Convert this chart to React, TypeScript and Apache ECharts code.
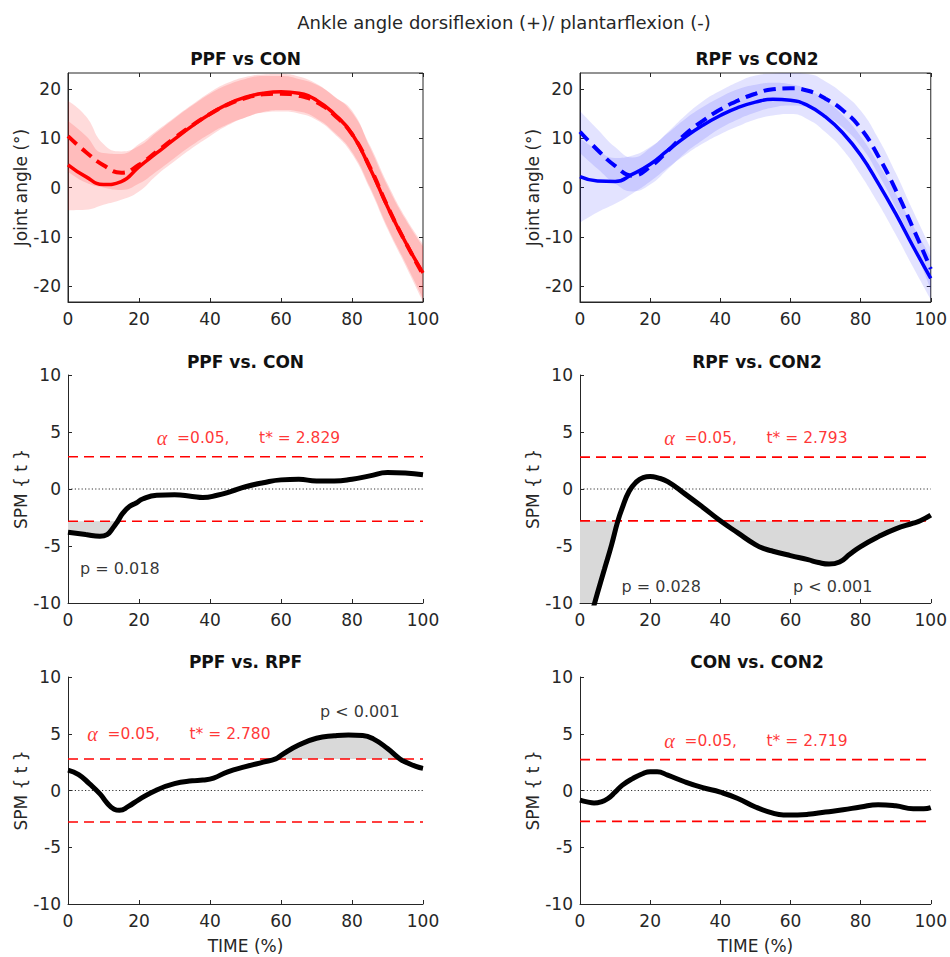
import React, { useEffect, useRef } from "react";
import * as echarts from "echarts";

// ---------------- data ----------------
const TIME_PCT = [0, 5, 10, 15, 20, 25, 30, 35, 40, 45, 50, 55, 60, 65, 70, 75, 80, 85, 90, 95, 100];

// Top-left: PPF (solid) vs CON (dashed), joint angle in degrees
const PPF_MEAN = [4.6, 2.2, 0.6, 1.2, 4.2, 7.0, 9.8, 12.5, 14.9, 16.9, 18.3, 19.1, 19.4, 19.1, 17.7, 14.9, 10.9, 4.0, -3.9, -11.0, -17.3];
const PPF_HI = [13.5, 10.5, 7.0, 6.8, 8.8, 11.5, 14.2, 16.8, 19.3, 21.2, 22.4, 22.9, 23.0, 22.5, 21.0, 18.4, 15.6, 8.2, 0.3, -6.4, -12.0];
const PPF_LO = [-4.6, -4.5, -3.5, -2.5, -0.8, 2.5, 5.3, 8.0, 10.4, 12.6, 14.2, 15.3, 15.7, 15.4, 14.0, 11.2, 7.2, 0.2, -8.0, -15.2, -22.5];
const CON_MEAN = [10.4, 7.2, 4.5, 3.0, 4.6, 7.3, 10.0, 12.6, 14.9, 16.8, 18.1, 18.9, 19.0, 18.6, 17.3, 14.7, 10.8, 4.2, -3.8, -11.0, -17.6];
const CON_HI = [17.6, 14.5, 8.8, 7.3, 8.4, 11.2, 14.0, 16.6, 19.0, 20.8, 22.0, 22.6, 22.6, 22.0, 20.8, 18.5, 15.2, 8.6, 0.8, -6.0, -11.5];
const CON_LO = [3.2, 1.0, 0.0, -0.5, 0.8, 3.3, 6.0, 8.6, 10.9, 12.8, 14.2, 15.2, 15.4, 15.0, 13.7, 10.9, 6.8, -0.2, -8.4, -15.7, -23.2];

// Top-right: RPF (solid) vs CON2 (dashed)
const RPF_MEAN = [2.2, 1.3, 1.2, 2.7, 4.7, 7.5, 10.2, 12.6, 14.6, 16.2, 17.3, 17.9, 17.7, 16.6, 14.3, 11.0, 6.6, 0.9, -5.3, -12.0, -18.4];
const RPF_HI = [10.0, 7.6, 6.0, 6.5, 8.2, 11.0, 13.9, 16.3, 18.3, 19.9, 20.8, 21.2, 20.9, 19.8, 17.6, 14.6, 10.4, 4.9, -1.2, -7.8, -14.0];
const RPF_LO = [-7.1, -5.0, -3.3, -1.2, 1.2, 4.0, 6.6, 8.9, 10.8, 12.4, 13.8, 14.6, 14.9, 13.8, 11.2, 7.6, 2.6, -3.2, -9.5, -16.2, -22.7];
const CON2_MEAN = [11.3, 7.6, 4.4, 2.4, 4.2, 7.4, 10.8, 13.5, 15.8, 17.6, 19.0, 19.9, 20.1, 19.6, 18.0, 15.6, 12.0, 6.4, -0.5, -8.3, -16.5];
const CON2_HI = [15.5, 11.8, 8.2, 6.1, 8.0, 11.2, 14.6, 17.5, 19.6, 21.4, 22.7, 23.1, 23.2, 23.0, 21.5, 19.0, 15.6, 10.0, 3.0, -4.8, -12.3];
const CON2_LO = [7.0, 3.8, 0.8, -0.8, 0.6, 3.7, 7.0, 9.6, 12.0, 13.8, 15.2, 16.2, 16.6, 16.2, 14.6, 12.1, 8.4, 2.8, -4.0, -11.8, -20.7];

// SPM{t} curves: [time %, t]
const SPM_PPF_CON: [number, number][] = [
  [0, -3.8], [5, -4.0], [9, -4.15], [11, -4.0], [12.7, -3.4], [14, -2.829], [15.5, -2.1], [17.4, -1.52],
  [19.2, -1.23], [21, -0.88], [25, -0.55], [30, -0.5], [35, -0.65], [38, -0.75], [42, -0.55], [46, -0.2],
  [50, 0.2], [55, 0.55], [60, 0.8], [65, 0.85], [70, 0.7], [75, 0.7], [80, 0.85], [85, 1.15], [90, 1.45],
  [95, 1.4], [100, 1.25],
];
const SPM_RPF_CON2: [number, number][] = [
  [0, -14], [2.5, -11.8], [5, -9.1], [7, -7.0], [9, -4.9], [10.8, -2.793], [12, -1.7], [14, -0.2], [16, 0.6],
  [18, 1.0], [20, 1.1], [22, 1.0], [25, 0.65], [30, -0.45], [35, -1.6], [40, -2.793], [45, -3.85], [50, -4.88],
  [52.7, -5.26], [55, -5.46], [60, -5.84], [65, -6.2], [68, -6.45], [71, -6.58], [74, -6.4], [77, -5.7],
  [80, -5.05], [85, -4.2], [90, -3.5], [95, -3.0], [97, -2.793], [100, -2.3],
];
const SPM_PPF_RPF: [number, number][] = [
  [0, 1.8], [3, 1.4], [6, 0.6], [9, -0.3], [11, -1.1], [13, -1.65], [14.5, -1.75], [17, -1.4], [20, -0.8],
  [25, 0.05], [30, 0.6], [35, 0.85], [38, 0.92], [41, 1.1], [45, 1.65], [50, 2.1], [55, 2.5], [58.5, 2.78],
  [60, 3.1], [65, 4.0], [70, 4.6], [75, 4.82], [79, 4.9], [83, 4.85], [86, 4.55], [90, 3.7], [93.5, 2.78],
  [95.5, 2.45], [98, 2.12], [100, 1.95],
];
const SPM_CON_CON2: [number, number][] = [
  [0, -0.85], [2, -1.0], [4, -1.1], [6, -1.0], [8, -0.7], [10, -0.15], [12, 0.45], [15, 1.05], [18, 1.5],
  [20, 1.65], [22, 1.65], [25, 1.35], [30, 0.75], [35, 0.25], [40, -0.15], [45, -0.7], [50, -1.45], [55, -2.0],
  [58, -2.15], [62, -2.15], [65, -2.1], [70, -1.9], [75, -1.7], [80, -1.45], [85, -1.25], [90, -1.35],
  [95, -1.6], [98, -1.6], [100, -1.5],
];

// critical thresholds t*
const T_PPF_CON = 2.829;
const T_RPF_CON2 = 2.793;
const T_PPF_RPF = 2.78;
const T_CON_CON2 = 2.719;

// supra-threshold clusters: [start %, end %, sign]
const CLUSTERS_PPF_CON = [[0, 14, -1]];
const CLUSTERS_RPF_CON2 = [[0, 10.8, -1], [40, 97, -1]];
const CLUSTERS_PPF_RPF = [[58.5, 93.5, 1]];
const CLUSTERS_CON_CON2: number[][] = [];

const P_PPF_CON = ["p = 0.018"];
const P_RPF_CON2 = ["p = 0.028", "p < 0.001"];
const P_PPF_RPF = ["p < 0.001"];

const MAIN_TITLE = "Ankle angle dorsiflexion (+)/ plantarflexion (-)";
const PANEL_TITLES = ["PPF vs CON", "RPF vs CON2", "PPF vs. CON", "RPF vs. CON2", "PPF vs. RPF", "CON vs. CON2"];
const X_TICKS = { min: 0, max: 100, step: 20 };
const ANGLE_RANGE = { min: -23.2, max: 23.2 };
const SPM_RANGE = { min: -10, max: 10, step: 5 };

// ---------------- styling / layout ----------------
const FONT = "'DejaVu Sans', sans-serif";
const SERIF = "'Liberation Serif', 'DejaVu Serif', serif";
const INK = "#262626";
const RED = "#FF0000";
const BLUE = "#0000FF";
const SMOOTH = 0.5;

const GRIDS = [
  { left: 68, top: 73, width: 355, height: 229 },
  { left: 580, top: 73, width: 354, height: 229 },
  { left: 68, top: 375, width: 355, height: 228 },
  { left: 580, top: 375, width: 354, height: 228 },
  { left: 68, top: 677, width: 355, height: 227 },
  { left: 580, top: 677, width: 354, height: 227 },
];

function pairs(xs: number[], ys: number[]) {
  return xs.map((x, i) => [x, ys[i]]);
}

function clamp(v: number, a: number, b: number) {
  return Math.min(Math.max(v, Math.min(a, b)), Math.max(a, b));
}

// control points following the same rule as ECharts' smoothed line
function controlPoints(pts: number[][], s: number) {
  const n = pts.length;
  const cin: number[][] = [];
  const cout: number[][] = [];
  for (let i = 0; i < n; i++) {
    const p = pts[i];
    if (i === 0 || i === n - 1 || s <= 0) {
      cin[i] = p;
      cout[i] = p;
      continue;
    }
    const prev = pts[i - 1];
    const next = pts[i + 1];
    const lp = Math.hypot(p[0] - prev[0], p[1] - prev[1]) || 1e-6;
    const ln = Math.hypot(next[0] - p[0], next[1] - p[1]) || 1e-6;
    const vx = next[0] - prev[0];
    const vy = next[1] - prev[1];
    const r = ln / (ln + lp);
    let ox = clamp(p[0] + vx * s * r, p[0], next[0]);
    let oy = clamp(p[1] + vy * s * r, p[1], next[1]);
    const ix = clamp(p[0] - ((ox - p[0]) * lp) / ln, prev[0], p[0]);
    const iy = clamp(p[1] - ((oy - p[1]) * lp) / ln, prev[1], p[1]);
    ox = p[0] + ((p[0] - ix) * ln) / lp;
    oy = p[1] + ((p[1] - iy) * ln) / lp;
    cin[i] = [ix, iy];
    cout[i] = [ox, oy];
  }
  return { cin, cout };
}

function smoothPath(pts: number[][], move: boolean, i0 = 0, i1 = pts.length - 1) {
  const { cin, cout } = controlPoints(pts, SMOOTH);
  let d = (move ? "M" : "L") + pts[i0][0] + " " + pts[i0][1];
  for (let i = i0; i < i1; i++) {
    d += ` C${cout[i][0]} ${cout[i][1]} ${cin[i + 1][0]} ${cin[i + 1][1]} ${pts[i + 1][0]} ${pts[i + 1][1]}`;
  }
  return d;
}

function bandSeries(gi: number, lo: number[], hi: number[], color: string) {
  return {
    type: "custom",
    xAxisIndex: gi,
    yAxisIndex: gi,
    clip: true,
    silent: true,
    z: 1,
    data: TIME_PCT.map((x, i) => [x, lo[i], hi[i]]),
    encode: { x: 0, y: [1, 2] },
    renderItem: (params: any, api: any) => {
      if (params.dataIndex !== 0) return null;
      const up = TIME_PCT.map((x, i) => api.coord([x, hi[i]]));
      const dn = TIME_PCT.map((x, i) => api.coord([x, lo[i]])).reverse();
      const d = smoothPath(up, true) + " " + smoothPath(dn, false) + " Z";
      return { type: "path", shape: { pathData: d }, style: { fill: color } };
    },
  };
}

function meanSeries(gi: number, ys: number[], color: string, dashed: boolean) {
  return {
    type: "line",
    xAxisIndex: gi,
    yAxisIndex: gi,
    data: pairs(TIME_PCT, ys),
    symbol: "none",
    smooth: SMOOTH,
    silent: true,
    z: 3,
    lineStyle: { color, width: dashed ? 4 : 3.5, type: dashed ? [12, 7] : "solid" },
  };
}

function clusterSeries(gi: number, curve: [number, number][], clusters: number[][], thr: number) {
  return clusters.map(([x0, x1, sign]) => ({
    type: "custom",
    xAxisIndex: gi,
    yAxisIndex: gi,
    clip: true,
    silent: true,
    z: 1,
    data: curve.filter(([x]) => x >= x0 && x <= x1),
    renderItem: (params: any, api: any) => {
      if (params.dataIndex !== 0) return null;
      const pix = curve.map((p) => api.coord(p));
      const i0 = curve.findIndex(([x]) => x >= x0);
      let i1 = i0;
      curve.forEach(([x], i) => {
        if (x <= x1) i1 = i;
      });
      const a = api.coord([curve[i1][0], sign * thr]);
      const b = api.coord([curve[i0][0], sign * thr]);
      const d = smoothPath(pix, true, i0, i1) + ` L${a[0]} ${a[1]} L${b[0]} ${b[1]} Z`;
      return { type: "path", shape: { pathData: d }, style: { fill: "#D9D9D9" } };
    },
  }));
}

function hLine(gi: number, y: number, color: string, width: number, type: any) {
  return {
    type: "line",
    xAxisIndex: gi,
    yAxisIndex: gi,
    data: [[X_TICKS.min, y], [X_TICKS.max, y]],
    symbol: "none",
    silent: true,
    z: 2,
    lineStyle: { color, width, type },
  };
}

function textSeries(gi: number, x: number, y: number, formatter: string, rich?: any, style?: any) {
  return {
    type: "scatter",
    xAxisIndex: gi,
    yAxisIndex: gi,
    data: [[x, y]],
    symbolSize: 0,
    silent: true,
    z: 10,
    label: {
      show: true,
      position: "right",
      distance: 0,
      formatter,
      rich,
      ...(style || {}),
    },
  };
}

function alphaText(gi: number, x: number, y: number, thr: number) {
  return textSeries(gi, x, y, `{a|α}{b|  =0.05,      t* = ${thr.toFixed(3)}}`, {
    a: { fontFamily: SERIF, fontStyle: "italic", fontSize: 20, color: RED },
    b: { fontFamily: FONT, fontSize: 15.5, color: RED },
  });
}

function pText(gi: number, x: number, y: number, txt: string) {
  return textSeries(gi, x, y, txt, undefined, { fontFamily: FONT, fontSize: 16, color: "#000" });
}

function spmSeries(gi: number, curve: [number, number][], clusters: number[][], thr: number) {
  return [
    ...clusterSeries(gi, curve, clusters, thr),
    hLine(gi, 0, "#333", 1, [1.2, 2.2]),
    hLine(gi, thr, RED, 1.6, [10, 6]),
    hLine(gi, -thr, RED, 1.6, [10, 6]),
    {
      type: "line",
      xAxisIndex: gi,
      yAxisIndex: gi,
      data: curve,
      symbol: "none",
      smooth: SMOOTH,
      silent: true,
      z: 4,
      lineStyle: { color: "#000", width: 5 },
    },
  ];
}

function buildOption() {
  const axisLine = { show: true, onZero: false, lineStyle: { color: INK, width: 1 } };
  const axisTick = { show: true, inside: true, length: 4, lineStyle: { color: INK, width: 1 } };
  const labelStyle = { color: INK, fontSize: 17, fontFamily: FONT };
  const nameStyle = { color: INK, fontSize: 17, fontFamily: FONT };

  const xAxis: any[] = GRIDS.map((_, i) => ({
    type: "value",
    gridIndex: i,
    min: X_TICKS.min,
    max: X_TICKS.max,
    interval: X_TICKS.step,
    position: "bottom",
    axisLine,
    axisTick,
    splitLine: { show: false },
    axisLabel: { ...labelStyle, margin: 8 },
    name: i >= 4 ? "TIME (%)" : "",
    nameLocation: "middle",
    nameGap: 33,
    nameTextStyle: nameStyle,
  }));
  const yAxis: any[] = GRIDS.map((_, i) =>
    i < 2
      ? {
          type: "value",
          gridIndex: i,
          min: ANGLE_RANGE.min,
          max: ANGLE_RANGE.max,
          splitNumber: 5,
          axisLine,
          axisTick,
          splitLine: { show: false },
          axisLabel: { ...labelStyle, margin: 7, showMinLabel: false, showMaxLabel: false },
          name: "Joint angle (°)",
          nameLocation: "middle",
          nameGap: 37,
          nameTextStyle: nameStyle,
        }
      : {
          type: "value",
          gridIndex: i,
          min: SPM_RANGE.min,
          max: SPM_RANGE.max,
          interval: SPM_RANGE.step,
          axisLine,
          axisTick,
          splitLine: { show: false },
          axisLabel: { ...labelStyle, margin: 7 },
          name: "SPM { t }",
          nameLocation: "middle",
          nameGap: 37,
          nameTextStyle: nameStyle,
        }
  );
  // box ticks (top / right) for the two angle panels
  [0, 1].forEach((i) => {
    xAxis.push({
      type: "value",
      gridIndex: i,
      min: X_TICKS.min,
      max: X_TICKS.max,
      interval: X_TICKS.step,
      position: "top",
      axisLine: { show: false, onZero: false },
      axisTick,
      axisLabel: { show: false },
      splitLine: { show: false },
    });
    yAxis.push({
      type: "value",
      gridIndex: i,
      min: ANGLE_RANGE.min,
      max: ANGLE_RANGE.max,
      splitNumber: 5,
      position: "right",
      axisLine: { show: false, onZero: false },
      axisTick,
      axisLabel: { show: false },
      splitLine: { show: false },
    });
  });

  const grid = GRIDS.map((g, i) => ({
    ...g,
    containLabel: false,
    show: i < 2,
    borderColor: INK,
    borderWidth: 1,
    backgroundColor: "transparent",
  }));

  const series: any[] = [
    bandSeries(0, PPF_LO, PPF_HI, "rgba(255,0,0,0.14)"),
    bandSeries(0, CON_LO, CON_HI, "rgba(255,0,0,0.14)"),
    meanSeries(0, PPF_MEAN, RED, false),
    meanSeries(0, CON_MEAN, RED, true),
    bandSeries(1, RPF_LO, RPF_HI, "rgba(0,0,255,0.11)"),
    bandSeries(1, CON2_LO, CON2_HI, "rgba(0,0,255,0.11)"),
    meanSeries(1, RPF_MEAN, BLUE, false),
    meanSeries(1, CON2_MEAN, BLUE, true),
    ...spmSeries(2, SPM_PPF_CON, CLUSTERS_PPF_CON, T_PPF_CON),
    ...spmSeries(3, SPM_RPF_CON2, CLUSTERS_RPF_CON2, T_RPF_CON2),
    ...spmSeries(4, SPM_PPF_RPF, CLUSTERS_PPF_RPF, T_PPF_RPF),
    ...spmSeries(5, SPM_CON_CON2, CLUSTERS_CON_CON2, T_CON_CON2),
    alphaText(2, 25, 4.5, T_PPF_CON),
    alphaText(3, 24, 4.45, T_RPF_CON2),
    alphaText(4, 5.4, 5.0, T_PPF_RPF),
    alphaText(5, 24, 4.4, T_CON_CON2),
    pText(2, 3.4, -7.0, P_PPF_CON[0]),
    pText(3, 11.8, -8.55, P_RPF_CON2[0]),
    pText(3, 60.7, -8.55, P_RPF_CON2[1]),
    pText(4, 71, 7.0, P_PPF_RPF[0]),
  ];

  const titleCenters = [
    [245.5, 59], [757, 59], [245.5, 362], [757, 362], [245.5, 662], [757, 662],
  ];
  const graphic: any[] = [
    {
      type: "text",
      x: 504,
      y: 22,
      silent: true,
      style: {
        text: MAIN_TITLE,
        fontSize: 18,
        fontFamily: FONT,
        fill: INK,
        align: "center",
        verticalAlign: "middle",
        textAlign: "center",
        textVerticalAlign: "middle",
      },
    },
    ...PANEL_TITLES.map((t, i) => ({
      type: "text",
      x: titleCenters[i][0],
      y: titleCenters[i][1],
      silent: true,
      style: {
        text: t,
        fontSize: 17,
        fontWeight: "bold",
        fontFamily: FONT,
        fill: "#111",
        align: "center",
        verticalAlign: "middle",
        textAlign: "center",
        textVerticalAlign: "middle",
      },
    })),
  ];

  return {
    animation: false,
    backgroundColor: "#fff",
    grid,
    xAxis,
    yAxis,
    series,
    graphic,
  };
}

export default function App() {
  const ref = useRef<HTMLDivElement>(null);
  useEffect(() => {
    if (!ref.current) return;
    const chart = echarts.init(ref.current, null, { renderer: "svg" });
    chart.setOption(buildOption() as any);
    return () => chart.dispose();
  }, []);
  return (
    <div
      ref={ref}
      style={{ position: "absolute", left: 0, top: 0, width: 950, height: 957, background: "#fff" }}
    />
  );
}
